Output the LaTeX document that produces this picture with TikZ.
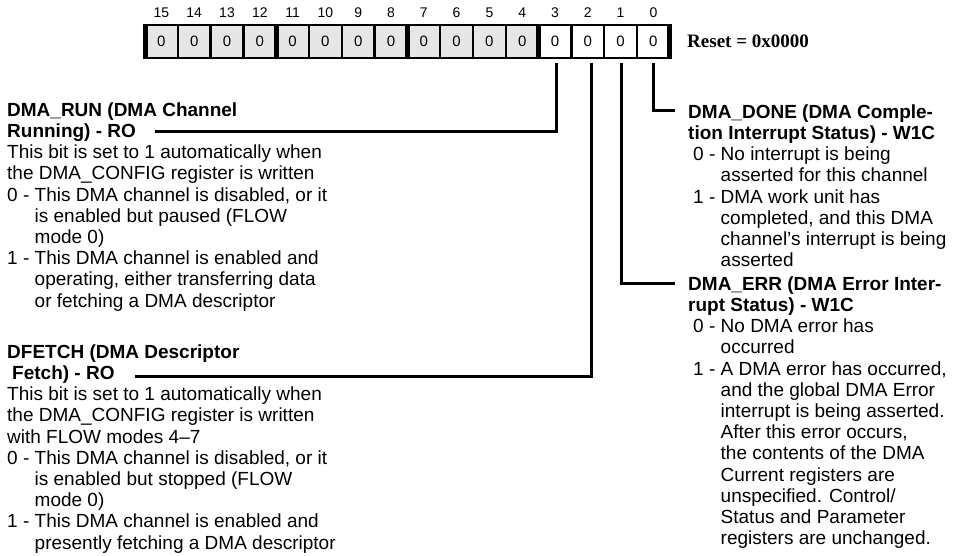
\documentclass[tikz,border=0pt]{standalone}
\usepackage{fontspec}
\setmainfont{Liberation Sans}
\newfontfamily\resetfont{Liberation Serif}
\definecolor{regGray}{HTML}{E6E6E6}
\begin{document}
\begin{tikzpicture}[x=1pt,y=-1pt,
  cell/.style={draw, line width=2.5pt, minimum width=32.8pt, minimum height=33pt,
    inner sep=0pt, outer sep=0pt, anchor=north west, font=\fontsize{15}{15}\selectfont},
  bitlabel/.style={inner sep=0pt, font=\fontsize{14}{14}\selectfont},
  thickdiv/.style={line width=5pt, shorten <=-1.25pt, shorten >=-1.25pt},
  desc/.style={anchor=north west, inner sep=0pt, align=left, font=\fontsize{19}{21.2}\selectfont},
  conn/.style={line width=3pt, shorten >=5pt},
  resetlbl/.style={anchor=west, inner sep=0pt, font=\resetfont\bfseries\fontsize{19}{19}\selectfont}]
\useasboundingbox (0,0) rectangle (955,555);

% register cells
\foreach \i in {0,...,15}{
  \pgfmathtruncatemacro\bit{15-\i}
  \ifnum\bit>3 \def\fc{regGray}\else\def\fc{white}\fi
  \node[cell, fill=\fc] (b\bit) at ({145+\i*32.8},25) {0};
  \node[bitlabel] (l\bit) at ({145+(\i+0.5)*32.8},13) {\bit};
}
\draw[thickdiv] (b15.north west) -- (b15.south west);
\draw[thickdiv] (b12.north east) -- (b12.south east);
\draw[thickdiv] (b8.north east) -- (b8.south east);
\draw[thickdiv] (b4.north east) -- (b4.south east);
\draw[thickdiv] (b0.north east) -- (b0.south east);

\node[resetlbl] (reset) at (687,41) {Reset = 0x0000};

% descriptions
\node[desc] (run) at (7,101) {\rule{0pt}{15pt}\textbf{DMA\_RUN (DMA Channel}\\
\textbf{Running) - RO}\\
This bit is set to 1 automatically when\\
the DMA\_CONFIG register is written\\
\makebox[27.5pt][l]{0 -}This DMA channel is disabled, or it\\
\hspace*{27.5pt}is enabled but paused (FLOW\\
\hspace*{27.5pt}mode 0)\\
\makebox[27.5pt][l]{1 -}This DMA channel is enabled and\\
\hspace*{27.5pt}operating, either transferring data\\
\hspace*{27.5pt}or fetching a DMA descriptor};

\node[desc] (dfetch) at (7,343) {\rule{0pt}{15pt}\textbf{DFETCH (DMA Descriptor}\\
\hspace*{5pt}\textbf{Fetch) - RO}\\
This bit is set to 1 automatically when\\
the DMA\_CONFIG register is written\\
with FLOW modes 4–7\\
\makebox[27.5pt][l]{0 -}This DMA channel is disabled, or it\\
\hspace*{27.5pt}is enabled but stopped (FLOW\\
\hspace*{27.5pt}mode 0)\\
\makebox[27.5pt][l]{1 -}This DMA channel is enabled and\\
\hspace*{27.5pt}presently fetching a DMA descriptor};

\node[desc] (done) at (688,103) {\rule{0pt}{15pt}\textbf{DMA\_DONE (DMA Comple-}\\
\textbf{tion Interrupt Status) - W1C}\\
\hspace*{5pt}\makebox[27.5pt][l]{0 -}No interrupt is being\\
\hspace*{32.5pt}asserted for this channel\\
\hspace*{5pt}\makebox[27.5pt][l]{1 -}DMA work unit has\\
\hspace*{32.5pt}completed, and this DMA\\
\hspace*{32.5pt}channel’s interrupt is being\\
\hspace*{32.5pt}asserted};

\node[desc] (err) at (688,275) {\rule{0pt}{15pt}\textbf{DMA\_ERR (DMA Error Inter-}\\
\textbf{rupt Status) - W1C}\\
\hspace*{5pt}\makebox[27.5pt][l]{0 -}No DMA error has\\
\hspace*{32.5pt}occurred\\
\hspace*{5pt}\makebox[27.5pt][l]{1 -}A DMA error has occurred,\\
\hspace*{32.5pt}and the global DMA Error\\
\hspace*{32.5pt}interrupt is being asserted.\\
\hspace*{32.5pt}After this error occurs,\\
\hspace*{32.5pt}the contents of the DMA\\
\hspace*{32.5pt}Current registers are\\
\hspace*{32.5pt}unspecified. Control/\\
\hspace*{32.5pt}Status and Parameter\\
\hspace*{32.5pt}registers are unchanged.};

% connectors
\coordinate (runS) at (155,131.5);
\coordinate (dfS) at (135,376);
\coordinate (errS) at (675,283.5);
\coordinate (doneS) at (675,110.5);
\draw[conn] (runS) -| ([xshift=1.5pt]b3.south);
\draw[conn] (dfS) -| ([xshift=3.5pt]b2.south);
\draw[conn] (errS) -| ([xshift=1pt]b1.south);
\draw[conn] (doneS) -| (b0.south);
\end{tikzpicture}
\end{document}
